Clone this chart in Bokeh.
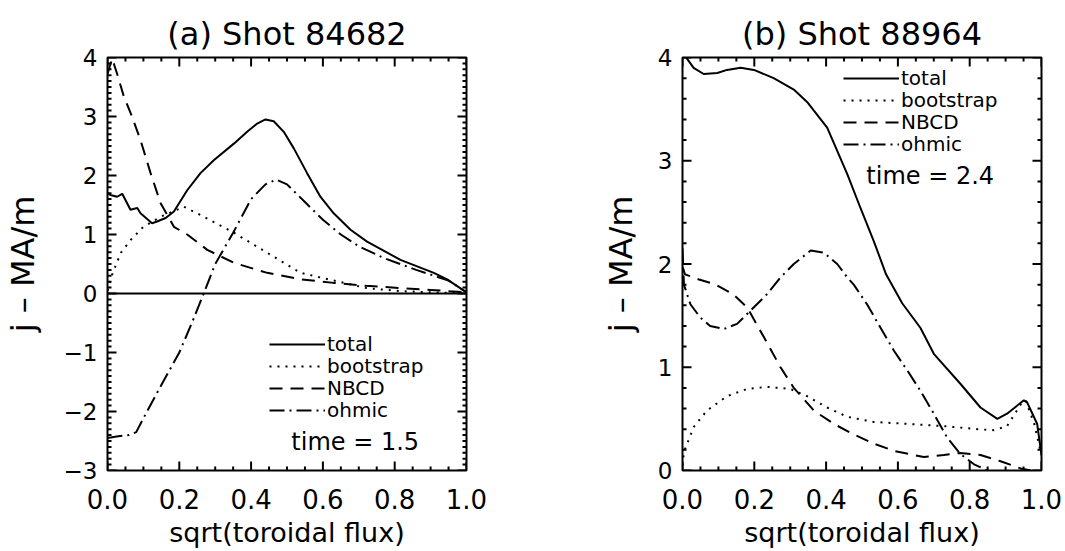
import numpy as np
from bokeh.plotting import figure
from bokeh.models import (Range1d, Span, Label, Legend, LegendItem, PrintfTickFormatter,
                          CustomJSTickFormatter, FixedTicker)
from bokeh.layouts import row
from bokeh.embed import file_html
from bokeh.resources import INLINE

# ---------------- data: panel (a) Shot 84682, time = 1.5 ----------------
xa_total = [0.0, 0.008, 0.027, 0.041, 0.064, 0.083, 0.092, 0.124, 0.138, 0.162, 0.185, 0.222,
            0.259, 0.296, 0.352, 0.389, 0.417, 0.44, 0.463, 0.491, 0.519, 0.556, 0.593, 0.63,
            0.677, 0.723, 0.816, 0.909, 0.946, 1.0]
ya_total = [1.70, 1.67, 1.64, 1.69, 1.42, 1.45, 1.36, 1.19, 1.22, 1.28, 1.39, 1.75,
            2.04, 2.26, 2.54, 2.74, 2.88, 2.95, 2.92, 2.74, 2.46, 2.04, 1.64, 1.36,
            1.08, 0.88, 0.57, 0.35, 0.24, 0.02]

xa_boot = [0.0, 0.013, 0.037, 0.065, 0.10, 0.148, 0.213, 0.259, 0.352, 0.445, 0.538, 0.63,
           0.723, 0.816, 0.9, 1.0]
ya_boot = [0.05, 0.32, 0.69, 0.91, 1.13, 1.30, 1.47, 1.33, 1.03, 0.69, 0.35, 0.22,
           0.09, 0.04, 0.02, 0.0]

xa_nbcd = [0.0, 0.013, 0.027, 0.045, 0.065, 0.092, 0.12, 0.148, 0.185, 0.222, 0.278, 0.352,
           0.445, 0.538, 0.63, 0.72, 0.82, 0.9, 1.0]
ya_nbcd = [3.72, 3.98, 3.72, 3.35, 3.05, 2.60, 2.04, 1.53, 1.13, 1.0, 0.74, 0.52,
           0.35, 0.24, 0.18, 0.13, 0.09, 0.06, 0.02]

xa_ohm = [0.0, 0.03, 0.06, 0.08, 0.11, 0.15, 0.2, 0.235, 0.268, 0.3, 0.35, 0.4, 0.44, 0.47,
          0.5, 0.55, 0.6, 0.65, 0.7, 0.77, 0.86, 0.95, 1.0]
ya_ohm = [-2.45, -2.42, -2.40, -2.35, -2.0, -1.55, -1.0, -0.5, 0.0, 0.5, 1.03, 1.6, 1.85, 1.93,
          1.85, 1.55, 1.25, 1.0, 0.8, 0.6, 0.4, 0.22, 0.02]

# ---------------- data: panel (b) Shot 88964, time = 2.4 ----------------
xb_total = [0.0, 0.031, 0.059, 0.097, 0.124, 0.162, 0.199, 0.254, 0.31, 0.347, 0.403, 0.459,
            0.496, 0.533, 0.567, 0.612, 0.663, 0.70, 0.774, 0.83, 0.877, 0.904, 0.951, 0.96,
            0.988, 1.0]
yb_total = [4.05, 3.90, 3.84, 3.85, 3.88, 3.90, 3.88, 3.80, 3.69, 3.57, 3.32, 2.87,
            2.54, 2.22, 1.90, 1.62, 1.38, 1.13, 0.84, 0.61, 0.50, 0.55, 0.68, 0.66,
            0.45, 0.15]

xb_boot = [0.0, 0.004, 0.031, 0.068, 0.124, 0.18, 0.235, 0.30, 0.347, 0.403, 0.459, 0.533,
           0.635, 0.728, 0.821, 0.868, 0.904, 0.942, 0.956, 0.98, 1.0]
yb_boot = [0.05, 0.18, 0.42, 0.58, 0.72, 0.79, 0.81, 0.79, 0.72, 0.61, 0.52, 0.47,
           0.45, 0.43, 0.40, 0.39, 0.43, 0.64, 0.68, 0.45, 0.15]

xb_nbcd = [0.0, 0.007, 0.046, 0.093, 0.14, 0.18, 0.227, 0.273, 0.31, 0.366, 0.422, 0.477,
           0.533, 0.589, 0.672, 0.728, 0.774, 0.83, 0.886, 0.942, 0.97]
yb_nbcd = [1.97, 1.90, 1.85, 1.80, 1.71, 1.58, 1.29, 1.0, 0.80, 0.58, 0.45, 0.35,
           0.26, 0.19, 0.13, 0.15, 0.17, 0.15, 0.09, 0.02, 0.0]

xb_ohm = [0.0, 0.004, 0.022, 0.05, 0.077, 0.115, 0.152, 0.19, 0.236, 0.273, 0.31, 0.357,
          0.394, 0.431, 0.459, 0.477, 0.514, 0.552, 0.589, 0.626, 0.663, 0.70, 0.737, 0.774,
          0.812, 0.849, 0.87]
yb_ohm = [2.15, 1.80, 1.61, 1.48, 1.40, 1.37, 1.42, 1.55, 1.71, 1.87, 2.0, 2.13,
          2.11, 2.0, 1.87, 1.80, 1.61, 1.38, 1.16, 0.97, 0.77, 0.55, 0.32, 0.16,
          0.06, 0.0, -0.04]

x_ticks = [0.0, 0.2, 0.4, 0.6, 0.8, 1.0]
series_names = ["total", "bootstrap", "NBCD", "ohmic"]
titles = ["(a) Shot 84682", "(b) Shot 88964"]
time_texts = ["time = 1.5", "time = 2.4"]
x_label = "sqrt(toroidal flux)"
y_label = "j \u2013 MA/m"

FONT = "DejaVu Sans"
DASHES = ["solid", "2 6", "13 8", "15 5 2 5"]
yfmt_code = "return tick < 0 ? '\\u2212' + Math.abs(tick) : tick.toFixed(0);"

FW = 359


def style_axis(ax):
    ax.axis_line_color = None
    ax.major_tick_in = 0
    ax.major_tick_out = 0
    ax.minor_tick_in = 0
    ax.minor_tick_out = 0
    ax.major_tick_line_color = None
    ax.minor_tick_line_color = None
    ax.major_label_text_font = FONT
    ax.major_label_text_color = "black"
    ax.axis_label_text_font = FONT
    ax.axis_label_text_font_style = "normal"
    ax.axis_label_text_color = "black"


def add_box_ticks(p, xmaj, xmin_, ymaj, ymin_, y0, y1, fh):
    # IDL-style inward tick marks on all four sides of the box
    dx = 1.0 / FW
    dy = (y1 - y0) / fh
    sx0, sy0, sx1, sy1 = [], [], [], []
    for ticks, L in ((xmaj, 9), (xmin_, 4)):
        for t in ticks:
            sx0 += [t, t]; sx1 += [t, t]
            sy0 += [y0, y1]; sy1 += [y0 + L * dy, y1 - L * dy]
    for ticks, L in ((ymaj, 9), (ymin_, 4)):
        for t in ticks:
            sy0 += [t, t]; sy1 += [t, t]
            sx0 += [0.0, 1.0]; sx1 += [L * dx, 1.0 - L * dx]
    p.segment(x0=sx0, y0=sy0, x1=sx1, y1=sy1, line_color="black", line_width=2)


def make_panel(title, series, ymin, ymax, yminor_step, b_left, b_top, f_h, b_bottom, b_right,
               leg_x, legend_offsets, time_text, time_xy, zero_line, ylabel_standoff):
    p = figure(width=b_left + FW + b_right, height=b_top + f_h + b_bottom,
               min_border_left=b_left, min_border_top=b_top,
               min_border_bottom=b_bottom, min_border_right=b_right,
               x_range=Range1d(0, 1), y_range=Range1d(ymin, ymax),
               output_backend="svg", toolbar_location=None)
    p.grid.visible = False
    p.outline_line_color = "black"
    p.outline_line_width = 2
    p.background_fill_color = "white"
    p.border_fill_color = "white"

    p.title.text = title
    p.title.align = "center"
    p.title.text_font = FONT
    p.title.text_font_size = "32px"
    p.title.text_font_style = "normal"
    p.title.text_color = "black"
    p.title.standoff = 9

    ymaj = list(range(int(ymin), int(ymax) + 1))
    xmin_ = [float(round(v, 3)) for v in np.arange(0, 1.0001, 0.05)
             if abs(v / 0.2 - round(v / 0.2)) > 1e-6]
    ymin_ = [float(round(v, 3)) for v in np.arange(ymin, ymax + 1e-6, yminor_step)
             if abs(v - round(v)) > 1e-6]

    xa = p.xaxis[0]
    xa.ticker = FixedTicker(ticks=x_ticks)
    xa.formatter = PrintfTickFormatter(format="%.1f")
    style_axis(xa)
    xa.major_label_text_font_size = "26px"
    xa.major_label_standoff = 18
    xa.axis_label = x_label
    xa.axis_label_text_font_size = "27px"
    xa.axis_label_standoff = 5

    ya = p.yaxis[0]
    ya.ticker = FixedTicker(ticks=ymaj)
    ya.formatter = CustomJSTickFormatter(code=yfmt_code)
    style_axis(ya)
    ya.major_label_text_font_size = "23px"
    ya.major_label_standoff = 10
    ya.major_label_orientation = "horizontal"
    ya.axis_label = y_label
    ya.axis_label_text_font_size = "32px"
    ya.axis_label_standoff = ylabel_standoff

    add_box_ticks(p, x_ticks, xmin_, ymaj, ymin_, ymin, ymax, f_h)

    if zero_line:
        p.add_layout(Span(location=0, dimension="width", line_color="black", line_width=2))

    for name, (xs, ys), dash, off in zip(series_names, series, DASHES, legend_offsets):
        r = p.line(xs, ys, line_color="black", line_width=2, line_dash=dash)
        leg = Legend(items=[LegendItem(label=name, renderers=[r])], location=(leg_x, off),
                     border_line_color=None, background_fill_alpha=0, padding=0, spacing=0,
                     margin=0, glyph_width=56, glyph_height=20, label_height=20,
                     label_standoff=2, label_text_font=FONT, label_text_font_size="20px",
                     label_text_baseline="alphabetic", label_text_color="black")
        p.add_layout(leg, "center")

    p.add_layout(Label(x=time_xy[0], y=time_xy[1], text=time_text, text_font=FONT,
                       text_font_size="24px", text_align="center", text_baseline="middle",
                       text_color="black"))
    return p


pa = make_panel(titles[0],
                [(xa_total, ya_total), (xa_boot, ya_boot), (xa_nbcd, ya_nbcd), (xa_ohm, ya_ohm)],
                -3, 4, 0.1, 107, 57, 415, 78, 104, 162, [114, 92, 70, 48],
                time_texts[0], (0.69, -2.51), True, 19)
pb = make_panel(titles[1],
                [(xb_total, yb_total), (xb_boot, yb_boot), (xb_nbcd, yb_nbcd), (xb_ohm, yb_ohm)],
                0, 4, 0.2, 112, 56, 414, 80, 22, 161, [380, 358, 336, 314],
                time_texts[1], (0.69, 2.85), False, 15)

layout = row(pa, pb)
open("out.html", "w").write(file_html(layout, INLINE))
